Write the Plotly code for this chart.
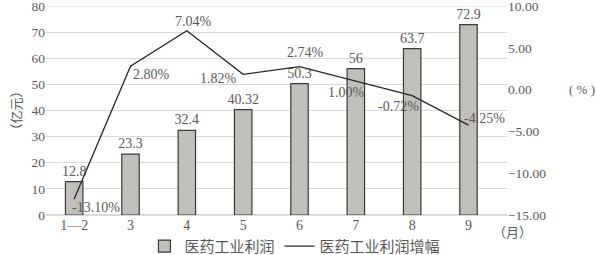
import plotly.graph_objects as go

months = ["1—2", "3", "4", "5", "6", "7", "8", "9"]
profit = [12.8, 23.3, 32.4, 40.32, 50.3, 56, 63.7, 72.9]
profit_labels = ["12.8", "23.3", "32.4", "40.32", "50.3", "56", "63.7", "72.9"]
growth = [-13.10, 2.80, 7.04, 1.82, 2.74, 1.00, -0.72, -4.25]
growth_labels = ["-13.10%", "2.80%", "7.04%", "1.82%", "2.74%", "1.00%", "-0.72%", "-4.25%"]
left_ticks = [0, 10, 20, 30, 40, 50, 60, 70, 80]
right_ticks = [-15, -10, -5, 0, 5, 10]
right_tick_text = ["−15.00", "−10.00", "−5.00", "0.00", "5.00", "10.00"]

# label offsets (pixels) for growth labels
label_dx = [22, 21, 7, -25, 6, -9, -14, 16]
label_dy = [-8, -8, 9, -4, 14, -11, -11, 7]

FONT = "Liberation Serif, Noto Sans CJK SC, serif"
GRAY = "#595959"

fig = go.Figure()
fig.add_trace(go.Bar(
    x=months, y=profit, name="医药工业利润",
    marker=dict(color="#c0bfbc", line=dict(color="#3a3a3a", width=1.2)),
    text=profit_labels, textposition="outside", cliponaxis=False,
    constraintext="none",
    textfont=dict(family=FONT, size=14, color=GRAY),
    width=0.31,
))
fig.add_trace(go.Scatter(
    x=months, y=growth, name="医药工业利润增幅", yaxis="y2",
    mode="lines", line=dict(color="#262626", width=1.3),
))
for i, (g, t, dx, dy) in enumerate(zip(growth, growth_labels, label_dx, label_dy)):
    fig.add_annotation(x=i, y=g, xref="x", yref="y2", text=t, showarrow=False,
                       xshift=dx, yshift=dy,
                       font=dict(family=FONT, size=14, color=GRAY))

fig.add_annotation(xref="paper", yref="paper", x=1.0, y=-0.08, xshift=-16,
                   text="（月）", showarrow=False, xanchor="left", yanchor="middle",
                   font=dict(family="Noto Sans CJK SC", size=13, color=GRAY))
fig.add_annotation(xref="paper", yref="paper", x=1.0, y=0.6, xshift=60,
                   text="( % )", showarrow=False, xanchor="left", yanchor="middle",
                   font=dict(family=FONT, size=13, color=GRAY))

fig.update_layout(
    width=596, height=255,
    margin=dict(l=46, r=89, t=6, b=40, autoexpand=False),
    plot_bgcolor="white", paper_bgcolor="white",
    showlegend=True,
    legend=dict(orientation="h", x=0.54, y=-0.15, xanchor="center", yanchor="middle",
                font=dict(family="Noto Sans CJK SC", size=15, color=GRAY),
                itemwidth=30, tracegroupgap=0),
    xaxis=dict(type="category", tickfont=dict(family=FONT, size=14, color=GRAY), showgrid=False,
               showline=False, ticks="", automargin=False),
    yaxis=dict(range=[0, 80], tickvals=left_ticks, showgrid=True, gridcolor="#d9d9d9",
               gridwidth=1, zeroline=True, zerolinecolor="#d9d9d9", automargin=False,
               ticklabeloverflow="allow",
               tickfont=dict(family=FONT, size=13.5, color=GRAY),
               title=dict(text="（亿元）", font=dict(family="Noto Sans CJK SC", size=13, color=GRAY),
                          standoff=6)),
    yaxis2=dict(range=[-15, 10], overlaying="y", side="right", tickvals=right_ticks,
                ticktext=right_tick_text, showgrid=False, zeroline=False, automargin=False,
                ticklabeloverflow="allow",
                tickfont=dict(family=FONT, size=13.5, color=GRAY)),
    bargap=0.69,
)
# top gridline at the axis maximum
fig.add_shape(type="line", xref="paper", yref="y", x0=0, x1=1, y0=left_ticks[-1], y1=left_ticks[-1],
              line=dict(color="#d9d9d9", width=1), layer="below")
fig.write_html("out.html")
